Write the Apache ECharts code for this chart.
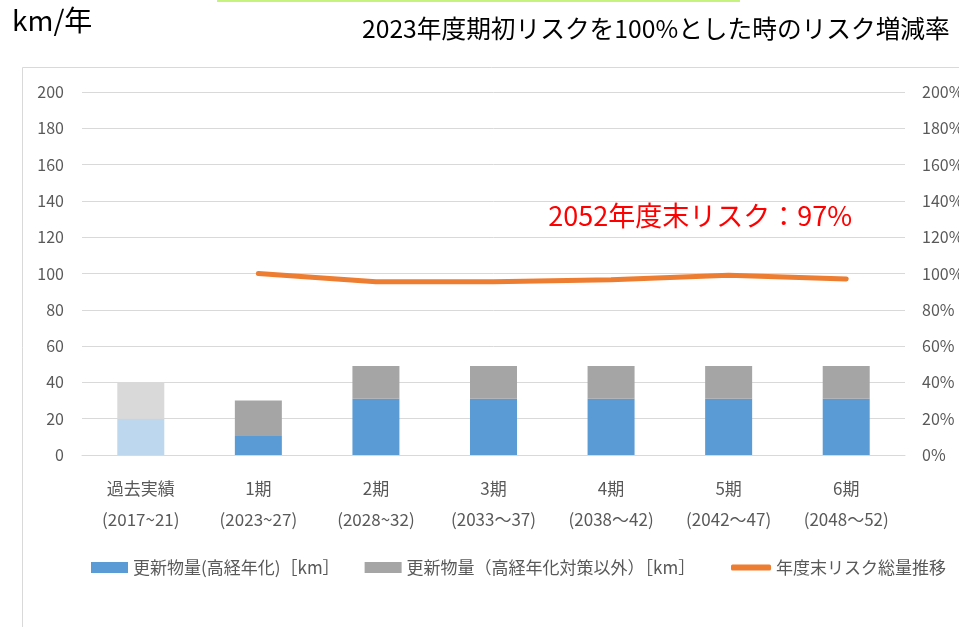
<!DOCTYPE html>
<html>
<head>
<meta charset="utf-8">
<script src="https://cdn.jsdelivr.net/npm/echarts@6/dist/echarts.min.js"></script>
<style>
  html, body { margin: 0; padding: 0; background: #ffffff; overflow: hidden; }
  #chart { width: 959px; height: 627px; }
</style>
</head>
<body>
<div id="chart"></div>
<script>
// Periods on the category axis
const categories = [
  '過去実績\n(2017~21)',
  '1期\n(2023~27)',
  '2期\n(2028~32)',
  '3期\n(2033～37)',
  '4期\n(2038～42)',
  '5期\n(2042～47)',
  '6期\n(2048～52)'
];
// Renewal length per year [km]
const renewAging = [20, 10.5, 31, 31, 31, 31, 31];
const renewOther = [20, 19.5, 18, 18, 18, 18, 18];
// Risk at end of each period, relative to 2023 start (%)
const riskRate = [null, 100, 95.5, 95.5, 96.5, 99, 97];
// Axis ticks
const leftTicks = [0, 200, 20];
const rightTicks = [0, 200, 20];

const seriesNames = ['更新物量(高経年化)［km］', '更新物量（高経年化対策以外）［km］', '年度末リスク総量推移'];
const FONT = '"Noto Sans CJK JP", "Noto Sans", sans-serif';
const AXIS_TEXT = '#595959';
const GRID_LINE = '#D9D9D9';

const agingData = renewAging.map((v, i) => i === 0 ? { value: v, itemStyle: { color: '#BDD7EE' } } : v);
const otherData = renewOther.map((v, i) => i === 0 ? { value: v, itemStyle: { color: '#D9D9D9' } } : v);
const lastIdx = riskRate.length - 1;
// The final point carries the year-end risk callout
const riskData = riskRate.map((v, i) => i === lastIdx ? {
  value: v,
  symbol: 'circle',
  symbolSize: 3,
  label: {
    show: true,
    position: 'top',
    offset: [-146, -43],
    formatter: p => '2052年度末リスク：' + p.value + '%',
    color: '#FF0000',
    fontSize: 27,
    fontFamily: FONT
  }
} : v);

const chart = echarts.init(document.getElementById('chart'), null, { renderer: 'canvas' });
chart.setOption({
  backgroundColor: '#ffffff',
  animation: false,
  textStyle: { fontFamily: FONT },
  graphic: [
    { type: 'rect', left: 217, top: 0, shape: { width: 523, height: 2 }, style: { fill: '#C6F27E' } },
    { type: 'rect', shape: { x: 22.5, y: 67.5, width: 960, height: 600 }, style: { fill: 'none', stroke: GRID_LINE, lineWidth: 1 } },
    { type: 'text', left: 12, top: 6, style: { text: 'km/年', fontSize: 28, fill: '#000000', fontFamily: FONT } },
    { type: 'text', left: 362, top: 16, style: { text: '2023年度期初リスクを100%とした時のリスク増減率', fontSize: 24.7, fill: '#000000', fontFamily: FONT } }
  ],
  grid: { left: 82, right: 54, top: 92, bottom: 172, containLabel: false, outerBoundsMode: 'none' },
  legend: [
    {
      data: [{ name: seriesNames[0], icon: 'rect' }, { name: seriesNames[1], icon: 'rect' }],
      left: 86, top: 554,
      itemWidth: 37, itemHeight: 11, itemGap: 25,
      textStyle: { fontSize: 17, color: AXIS_TEXT, fontFamily: FONT }
    },
    {
      data: [{ name: seriesNames[2], icon: 'roundRect' }],
      left: 726, top: 554,
      itemWidth: 40, itemHeight: 6,
      textStyle: { fontSize: 17, color: AXIS_TEXT, fontFamily: FONT }
    }
  ],
  xAxis: {
    type: 'category',
    data: categories,
    axisTick: { show: false },
    axisLine: { lineStyle: { color: GRID_LINE, width: 1 } },
    axisLabel: { color: AXIS_TEXT, fontSize: 17, lineHeight: 31, margin: 18, interval: 0 }
  },
  yAxis: [
    {
      type: 'value', min: leftTicks[0], max: leftTicks[1], interval: leftTicks[2],
      axisLine: { show: false }, axisTick: { show: false },
      splitLine: { lineStyle: { color: GRID_LINE, width: 1 } },
      axisLabel: { color: AXIS_TEXT, fontSize: 16, margin: 18 }
    },
    {
      type: 'value', min: rightTicks[0], max: rightTicks[1], interval: rightTicks[2],
      axisLine: { show: false }, axisTick: { show: false },
      splitLine: { show: false },
      axisLabel: { color: AXIS_TEXT, fontSize: 16, margin: 17, formatter: '{value}%' }
    }
  ],
  series: [
    {
      name: seriesNames[0], type: 'bar', stack: 'renew', barWidth: 47,
      itemStyle: { color: '#5B9BD5' }, data: agingData
    },
    {
      name: seriesNames[1], type: 'bar', stack: 'renew', barWidth: 47,
      itemStyle: { color: '#A5A5A5' }, data: otherData
    },
    {
      name: seriesNames[2], type: 'line', yAxisIndex: 1,
      showSymbol: true, symbol: 'none',
      lineStyle: { color: '#ED7D31', width: 5, cap: 'round', join: 'round' },
      itemStyle: { color: '#ED7D31' },
      data: riskData
    }
  ]
});
</script>
</body>
</html>
